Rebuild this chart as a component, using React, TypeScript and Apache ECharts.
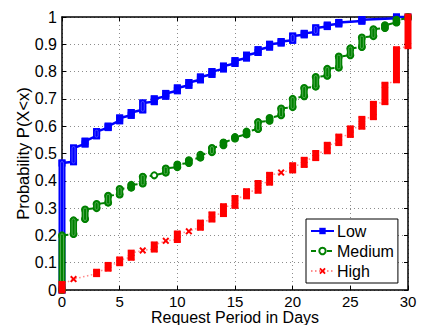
import React, { useEffect, useRef } from "react";
import * as echarts from "echarts";

const xTicks = [0, 5, 10, 15, 20, 25, 30];
const yTicks = [0, 0.1, 0.2, 0.3, 0.4, 0.5, 0.6, 0.7, 0.8, 0.9, 1];

const lowDays = [0, 1, 2, 3, 4, 5, 6, 7, 8, 9, 10, 11, 12, 13, 14, 15, 16, 17, 18, 19, 20, 21, 22, 23, 24, 26, 29, 30];
const lowFrom = [0, 0.47, 0.535, 0.565, 0.595, 0.62, 0.64, 0.66, 0.69, 0.71, 0.73, 0.75, 0.77, 0.79, 0.81, 0.83, 0.85, 0.87, 0.89, 0.905, 0.915, 0.935, 0.945, 0.965, 0.975, 0.985, 0.995, 1.0];
const lowTo = [0.465, 0.52, 0.545, 0.58, 0.6, 0.63, 0.65, 0.685, 0.7, 0.72, 0.74, 0.76, 0.78, 0.8, 0.82, 0.84, 0.86, 0.88, 0.9, 0.91, 0.93, 0.94, 0.96, 0.97, 0.98, 0.99, 1.0, 1.0];

const medDays = [0, 1, 2, 3, 4, 5, 6, 7, 8, 9, 10, 11, 12, 13, 14, 15, 16, 17, 18, 19, 20, 21, 22, 23, 24, 25, 26, 27, 28, 29, 30];
const medFrom = [0, 0.205, 0.26, 0.3, 0.32, 0.35, 0.375, 0.39, 0.42, 0.43, 0.45, 0.465, 0.485, 0.505, 0.53, 0.555, 0.57, 0.59, 0.62, 0.64, 0.67, 0.71, 0.745, 0.785, 0.815, 0.86, 0.89, 0.93, 0.96, 0.98, 0.995];
const medTo = [0.2, 0.255, 0.295, 0.315, 0.345, 0.37, 0.385, 0.415, 0.42, 0.445, 0.46, 0.475, 0.495, 0.52, 0.54, 0.56, 0.58, 0.615, 0.63, 0.665, 0.7, 0.74, 0.78, 0.81, 0.855, 0.885, 0.925, 0.955, 0.97, 0.99, 1.0];

const highDays = [0, 1, 3, 4, 5, 6, 7, 8, 9, 10, 11, 12, 13, 14, 15, 16, 17, 18, 19, 20, 21, 22, 23, 24, 25, 26, 27, 28, 29, 30];
const highFrom = [0, 0.04, 0.06, 0.08, 0.1, 0.12, 0.145, 0.15, 0.18, 0.185, 0.215, 0.23, 0.26, 0.28, 0.31, 0.345, 0.365, 0.395, 0.43, 0.44, 0.46, 0.485, 0.51, 0.54, 0.57, 0.6, 0.635, 0.69, 0.77, 0.895];
const highTo = [0.02, 0.04, 0.065, 0.09, 0.11, 0.135, 0.145, 0.165, 0.18, 0.205, 0.215, 0.245, 0.275, 0.305, 0.335, 0.36, 0.39, 0.42, 0.43, 0.455, 0.475, 0.5, 0.53, 0.56, 0.59, 0.625, 0.68, 0.75, 0.88, 1.0];

const FONT = "Liberation Sans, Arial, Helvetica, sans-serif";
const X_PATH = "path://M0,2L2,0L5,3L8,0L10,2L7,5L10,8L8,10L5,7L2,10L0,8L3,5Z";

function lineData(days: number[], from: number[], to: number[]) {
  const out: number[][] = [];
  days.forEach((d, i) => {
    out.push([d, from[i]]);
    if (to[i] !== from[i]) out.push([d, to[i]]);
  });
  return out;
}

function blobData(days: number[], from: number[], to: number[]) {
  return days.map((d, i) => [d, from[i], to[i]]).filter((r) => r[2] > r[1]);
}

function blobSeries(name: string, data: number[][], color: string, radius: number, inner: string | null, z: number) {
  return {
    type: "custom",
    name,
    clip: false,
    silent: true,
    z,
    data,
    encode: { x: 0, y: [1, 2] },
    renderItem: (params: any, api: any) => {
      const d = api.value(0);
      const a = api.value(1);
      const b = api.value(2);
      const top = api.coord([d, b]);
      const bot = api.coord([d, a]);
      const w = 7;
      const children: any[] = [
        {
          type: "rect",
          shape: { x: top[0] - w / 2, y: top[1] - w / 2, width: w, height: bot[1] - top[1] + w, r: radius },
          style: { fill: color },
        },
      ];
      if (inner && bot[1] - top[1] > 3) {
        children.push({
          type: "rect",
          shape: { x: top[0] - 1.5, y: top[1] - 1.5, width: 3, height: bot[1] - top[1] + 3, r: 1.5 },
          style: { fill: "none", stroke: inner, lineWidth: 0.8 },
        });
      }
      return { type: "group", children };
    },
  };
}

export default function App() {
  const ref = useRef<HTMLDivElement>(null);
  useEffect(() => {
    if (!ref.current) return;
    const chart = echarts.init(ref.current, null, { renderer: "svg" });
    const axisCommon = {
      axisLine: { show: true, onZero: false, lineStyle: { color: "#000", width: 1.5 } },
      axisTick: { show: true, inside: true, length: 4, lineStyle: { color: "#000", width: 1 } },
    };
    chart.setOption({
      animation: false,
      backgroundColor: "#fff",
      textStyle: { fontFamily: FONT },
      grid: { left: 62, right: 13, top: 17, bottom: 35, containLabel: false, outerBoundsMode: "none" },
      legend: {
        data: ["Low", "Medium", "High"],
        orient: "vertical",
        left: 306,
        top: 219,
        padding: [4, 4, 4, 4],
        itemGap: 4,
        itemWidth: 23,
        itemHeight: 8,
        backgroundColor: "#fff",
        borderColor: "#000",
        borderWidth: 1,
        borderRadius: 0,
        textStyle: { fontFamily: FONT, fontSize: 16, color: "#000", lineHeight: 16, padding: [0, 0, 0, -2] },
      },
      xAxis: [
        {
          type: "value",
          min: 0,
          max: 30,
          interval: 5,
          name: "Request Period in Days",
          nameLocation: "middle",
          nameGap: 21,
          nameMoveOverlap: false,
          nameTextStyle: { fontFamily: FONT, fontSize: 16, color: "#000", lineHeight: 12 },
          ...axisCommon,
          axisLabel: {
            fontFamily: FONT,
            fontSize: 15,
            color: "#000",
            margin: 5.5,
            lineHeight: 12,
            formatter: (v: number) => (xTicks.includes(v) ? String(v) : ""),
          },
          splitLine: { show: true, lineStyle: { color: "#8c8c8c", type: [1, 3], width: 1 } },
        },
        {
          type: "value",
          position: "top",
          min: 0,
          max: 30,
          interval: 5,
          ...axisCommon,
          axisLabel: { show: false },
          splitLine: { show: false },
        },
      ],
      yAxis: [
        {
          type: "value",
          min: 0,
          max: 1,
          interval: 0.1,
          name: "Probability P(X<x)",
          nameLocation: "middle",
          nameGap: 31,
          nameMoveOverlap: false,
          nameTextStyle: { fontFamily: FONT, fontSize: 16.5, color: "#000" },
          ...axisCommon,
          axisLabel: {
            fontFamily: FONT,
            fontSize: 16,
            color: "#000",
            margin: 5,
            formatter: (v: number) => {
              const t = yTicks.find((y) => Math.abs(y - v) < 1e-6);
              return t === undefined ? "" : String(+t.toFixed(1));
            },
          },
          splitLine: { show: true, lineStyle: { color: "#8c8c8c", type: [1, 3], width: 1 } },
        },
        {
          type: "value",
          position: "right",
          min: 0,
          max: 1,
          interval: 0.1,
          ...axisCommon,
          axisLabel: { show: false },
          splitLine: { show: false },
        },
      ],
      series: [
        {
          type: "line",
          name: "Low",
          data: lineData(lowDays, lowFrom, lowTo),
          symbol: "rect",
          symbolSize: 7,
          showAllSymbol: true,
          clip: false,
          lineStyle: { color: "#0000ff", width: 2.5, type: "solid" },
          itemStyle: { color: "#0000ff" },
          z: 2,
        },
        blobSeries("LowBlob", blobData(lowDays, lowFrom, lowTo), "#0000ff", 0, "#5a5aff", 3),
        {
          type: "line",
          name: "Medium",
          data: lineData(medDays, medFrom, medTo),
          symbol: "emptyCircle",
          symbolSize: 6,
          showAllSymbol: true,
          clip: false,
          lineStyle: { color: "#008000", width: 2, type: [5, 3] },
          itemStyle: { color: "#008000", borderColor: "#008000", borderWidth: 2 },
          z: 4,
        },
        blobSeries("MediumBlob", blobData(medDays, medFrom, medTo), "#008000", 3.5, "#5fb55f", 5),
        {
          type: "line",
          name: "High",
          data: lineData(highDays, highFrom, highTo),
          symbol: X_PATH,
          symbolSize: 7,
          showAllSymbol: true,
          clip: false,
          lineStyle: { color: "#ff5a5a", width: 1.5, type: [1.5, 2.5], opacity: 0.7 },
          itemStyle: { color: "#ff0000" },
          z: 6,
        },
        blobSeries("HighBlob", blobData(highDays, highFrom, highTo), "#ff0000", 0, null, 7),
      ],
    });
    return () => chart.dispose();
  }, []);
  return <div ref={ref} style={{ width: 421, height: 325, position: "absolute", left: 0, top: 0 }} />;
}
